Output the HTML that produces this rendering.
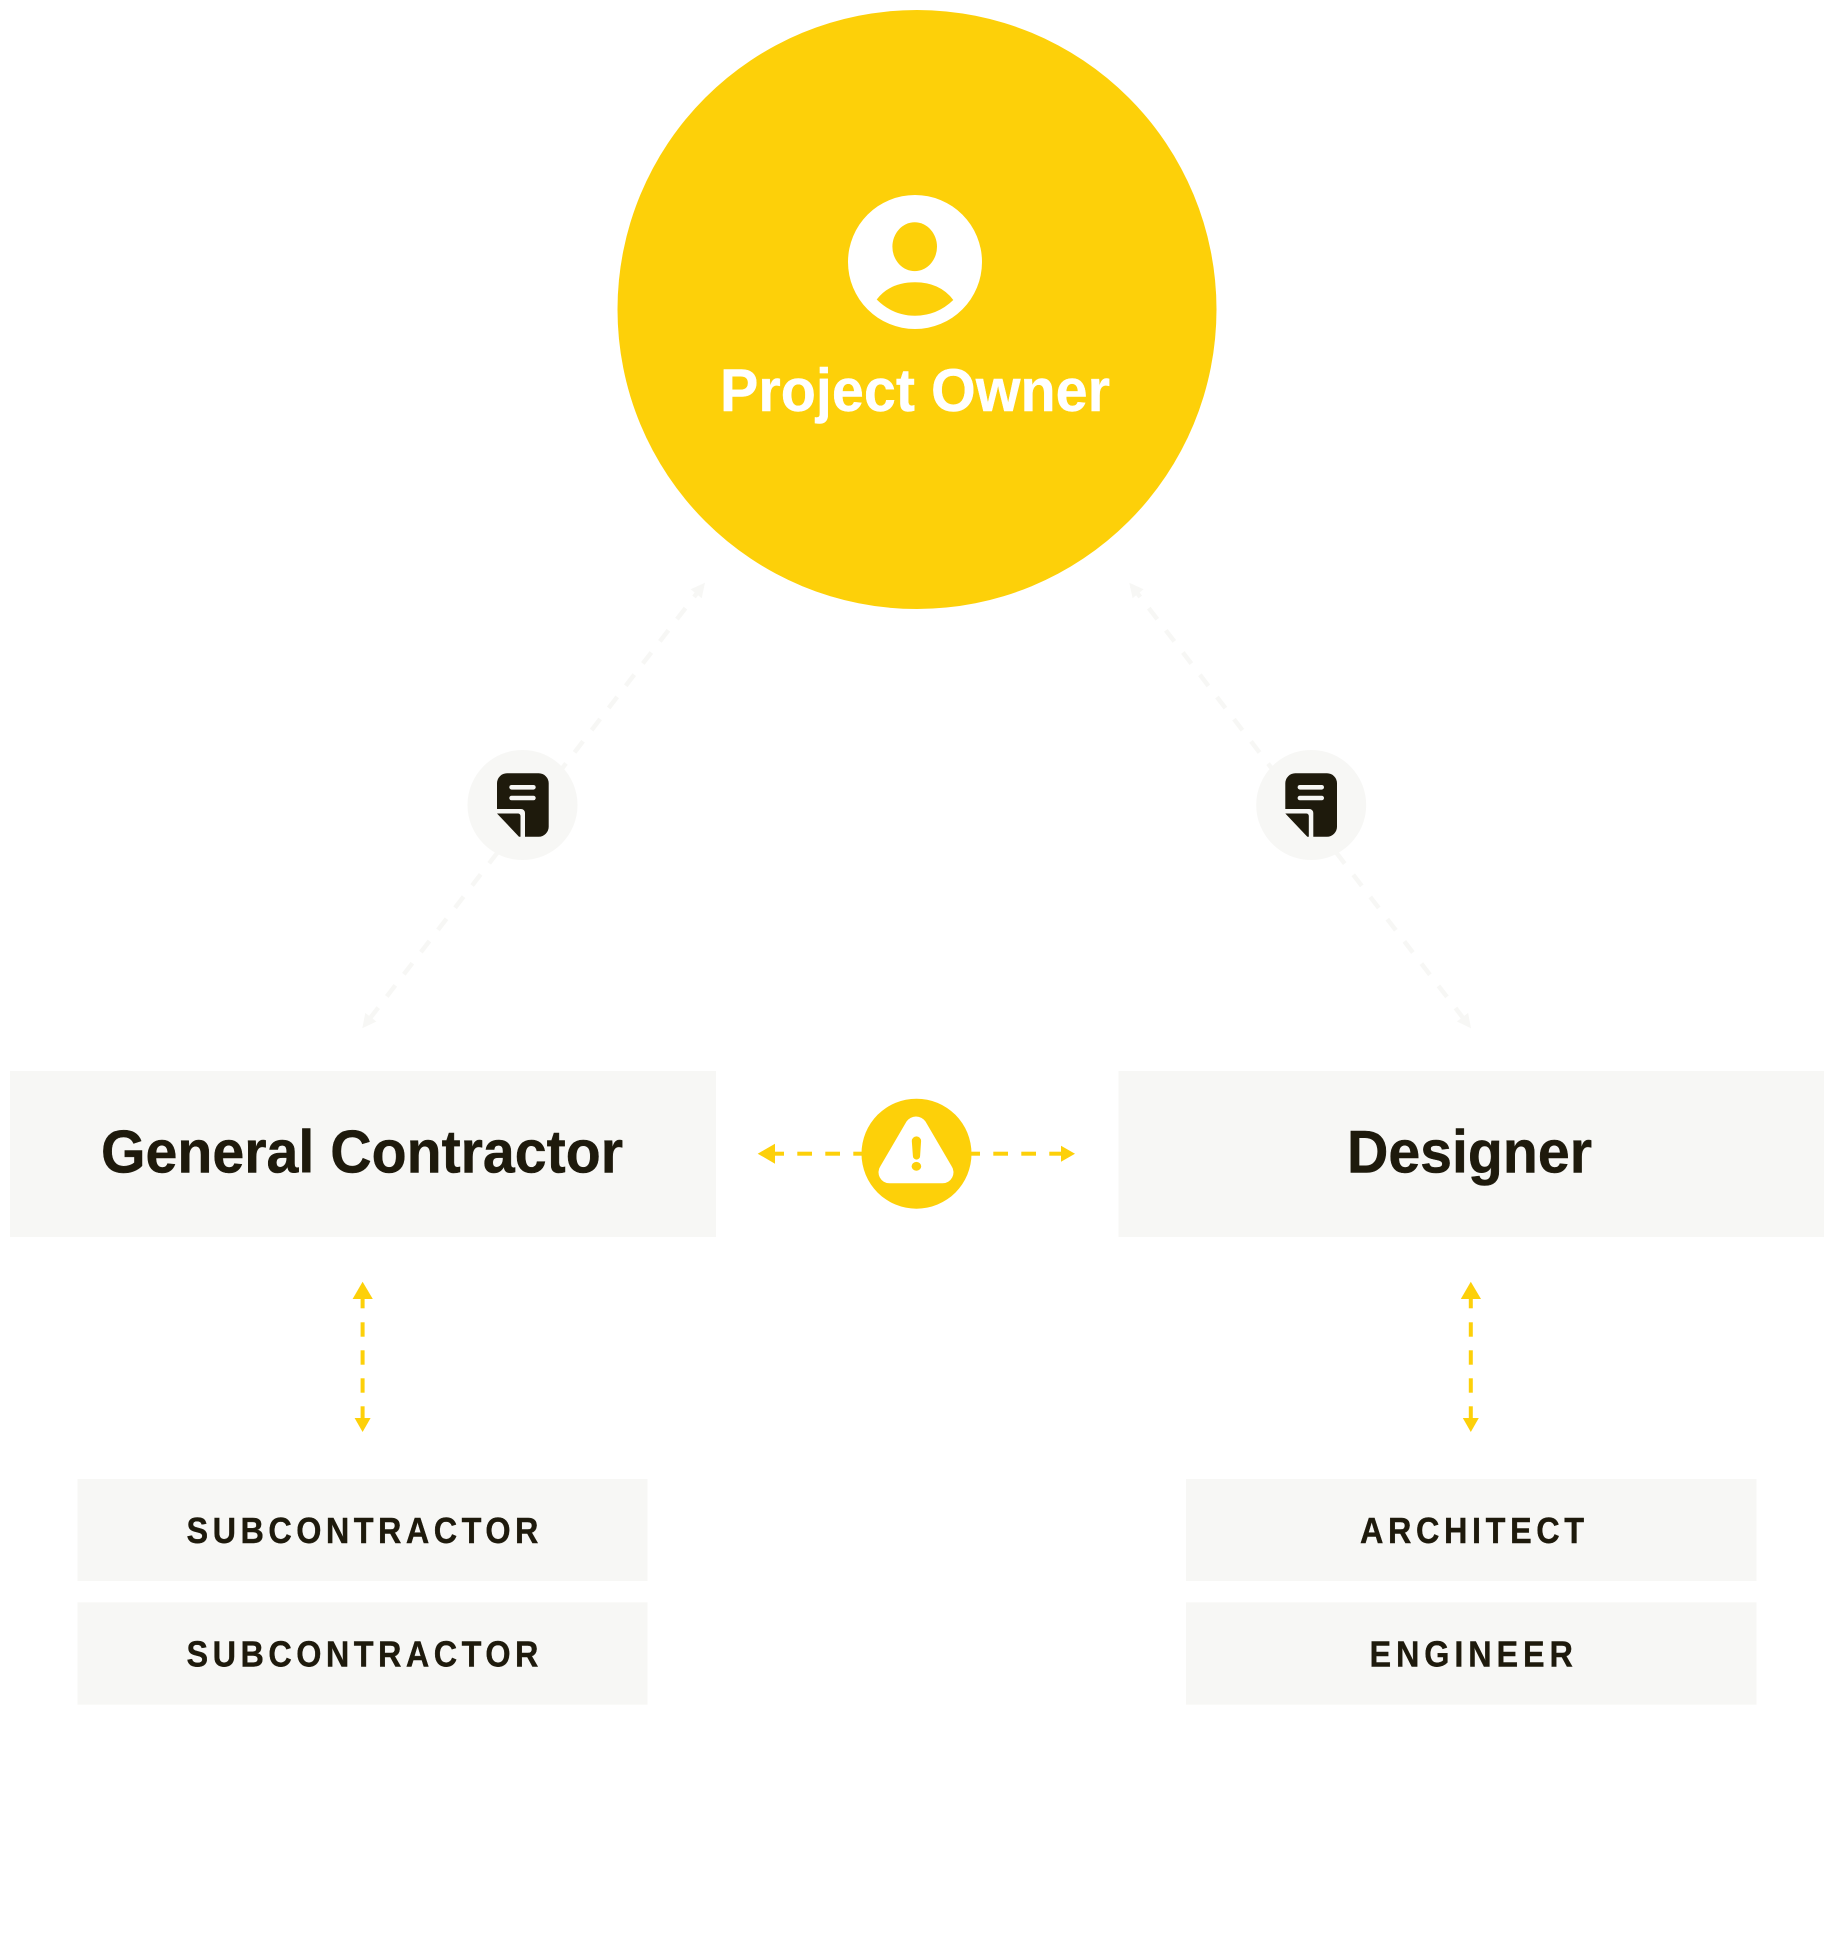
<!DOCTYPE html>
<html lang="en"><head><meta charset="utf-8"><title>Project Owner diagram</title>
<style>
html,body{margin:0;padding:0;background:#fff}
svg{display:block}
text{font-family:"Liberation Sans",sans-serif;font-weight:700}
.t{font-size:60px;fill:#1e1a0c;stroke:#1e1a0c;stroke-width:.5px}
.s{font-size:36px;fill:#1e1a0c;stroke:#1e1a0c;stroke-width:.4px}
</style></head><body>
<svg width="1834" height="1949" viewBox="0 0 1834 1949" xmlns="http://www.w3.org/2000/svg">
<rect width="1834" height="1949" fill="#fff"/>
<!-- faint connectors -->
<g stroke="#f7f7f5" stroke-width="4.5" fill="none" stroke-dasharray="14 14" stroke-dashoffset="-4">
<line x1="705" y1="582.7" x2="362.3" y2="1028.3"/>
<line x1="1129.3" y1="582.7" x2="1471" y2="1028.3"/>
</g>
<g fill="#f7f7f5">
<polygon points="705,582.7 690.7,589.3 701.7,598.3"/>
<polygon points="362.3,1028.3 376.4,1021.5 365.3,1012.9"/>
<polygon points="1129.3,582.7 1143.6,589.3 1132.6,598.3"/>
<polygon points="1471,1028.3 1468.1,1012.9 1456.9,1021.5"/>
</g>
<!-- owner -->
<circle cx="917" cy="309.5" r="299.5" fill="#fdd009"/>
<circle cx="915" cy="262" r="67" fill="#fff"/>
<ellipse cx="914.7" cy="246.7" rx="22.3" ry="24.4" fill="#fdd009"/>
<path d="M876.7 299.5Q890 282.3 915 282.3T953.3 300Q937 315.7 915 315.7T876.7 299.5Z" fill="#fdd009"/>
<text x="720" y="411" font-size="60" fill="#fff" stroke="#fff" stroke-width=".4" textLength="390" lengthAdjust="spacingAndGlyphs">Project Owner</text>
<!-- doc circles -->
<circle cx="522.5" cy="805" r="55" fill="#f7f7f5"/>
<circle cx="1311.2" cy="805" r="55" fill="#f7f7f5"/>
<g fill="#1e1a0c">
<path d="M497 783.3a10 10 0 0 1 10-10h31.7a10 10 0 0 1 10 10v43.4a10 10 0 0 1-10 10H525V813a4 4 0 0 0-4-4H497Z"/>
<path d="M497 813.5H518a2.5 2.5 0 0 1 2.5 2.5V836.7H519Z"/>
<rect x="509.3" y="785" width="26.4" height="4.6" rx="2.3" fill="#f7f7f5"/>
<rect x="509.3" y="795.7" width="26.4" height="4.6" rx="2.3" fill="#f7f7f5"/>
</g>
<g transform="translate(788.3 0)" fill="#1e1a0c">
<path d="M497 783.3a10 10 0 0 1 10-10h31.7a10 10 0 0 1 10 10v43.4a10 10 0 0 1-10 10H525V813a4 4 0 0 0-4-4H497Z"/>
<path d="M497 813.5H518a2.5 2.5 0 0 1 2.5 2.5V836.7H519Z"/>
<rect x="509.3" y="785" width="26.4" height="4.6" rx="2.3" fill="#f7f7f5"/>
<rect x="509.3" y="795.7" width="26.4" height="4.6" rx="2.3" fill="#f7f7f5"/>
</g>
<!-- main boxes -->
<rect x="10" y="1071" width="706" height="166" fill="#f7f7f5"/>
<rect x="1118.5" y="1071" width="705.5" height="166" fill="#f7f7f5"/>
<text class="t" x="101" y="1172.3" textLength="522" lengthAdjust="spacingAndGlyphs">General Contractor</text>
<text class="t" x="1347" y="1172.3" textLength="245" lengthAdjust="spacingAndGlyphs">Designer</text>
<!-- horizontal connector -->
<g fill="#fdd009">
<polygon points="757.7,1153.7 775,1143.7 775,1163.7"/>
<polygon points="1075,1153.7 1061,1145.7 1061,1161.7"/>
<rect x="775" y="1151.7" width="9" height="4"/>
<rect x="797.3" y="1151.7" width="14.7" height="4"/>
<rect x="825.3" y="1151.7" width="14.7" height="4"/>
<rect x="853.3" y="1151.7" width="10" height="4"/>
<rect x="970" y="1151.7" width="10" height="4"/>
<rect x="993.3" y="1151.7" width="14.7" height="4"/>
<rect x="1021.3" y="1151.7" width="14.7" height="4"/>
<rect x="1049.3" y="1151.7" width="12" height="4"/>
</g>
<circle cx="916.5" cy="1153.7" r="55" fill="#fdd009"/>
<path d="M906.5 1121.5a11.5 11.5 0 0 1 19 0L951.5 1166a11 11 0 0 1-9 17.3H889.5a11 11 0 0 1-9-17.3Z" fill="#fff"/>
<path d="M911.8 1141a4.6 4.6 0 0 1 9.3 0l-1 15a3.6 3.6 0 0 1-7.2 0Z" fill="#fdd009"/>
<ellipse cx="916.4" cy="1166.3" rx="4.8" ry="4.4" fill="#fdd009"/>
<!-- vertical connectors -->
<g fill="#fdd009">
<polygon points="362.6,1281.7 352.6,1299 372.8,1299"/>
<polygon points="362.6,1432 354.6,1418 370.6,1418"/>
<rect x="360.6" y="1299" width="4" height="9.3"/>
<rect x="360.6" y="1322.3" width="4" height="14.4"/>
<rect x="360.6" y="1350.3" width="4" height="14.4"/>
<rect x="360.6" y="1378.3" width="4" height="14.4"/>
<rect x="360.6" y="1406.3" width="4" height="12"/>
</g>
<g transform="translate(1108.2 0)" fill="#fdd009">
<polygon points="362.6,1281.7 352.6,1299 372.8,1299"/>
<polygon points="362.6,1432 354.6,1418 370.6,1418"/>
<rect x="360.6" y="1299" width="4" height="9.3"/>
<rect x="360.6" y="1322.3" width="4" height="14.4"/>
<rect x="360.6" y="1350.3" width="4" height="14.4"/>
<rect x="360.6" y="1378.3" width="4" height="14.4"/>
<rect x="360.6" y="1406.3" width="4" height="12"/>
</g>
<!-- small boxes -->
<g fill="#f7f7f5">
<rect x="77.5" y="1479" width="570" height="102"/>
<rect x="77.5" y="1602.3" width="570" height="102.4"/>
<rect x="1186" y="1479" width="570.5" height="102"/>
<rect x="1186" y="1602.3" width="570.5" height="102.4"/>
</g>
<text class="s" transform="translate(186.5 1543) scale(.9 1)" textLength="391" lengthAdjust="spacing">SUBCONTRACTOR</text>
<text class="s" transform="translate(186.5 1666.3) scale(.9 1)" textLength="391" lengthAdjust="spacing">SUBCONTRACTOR</text>
<text class="s" transform="translate(1360 1543) scale(.9 1)" textLength="249" lengthAdjust="spacing">ARCHITECT</text>
<text class="s" transform="translate(1369.5 1666.3) scale(.9 1)" textLength="226" lengthAdjust="spacing">ENGINEER</text>
</svg>
</body></html>
